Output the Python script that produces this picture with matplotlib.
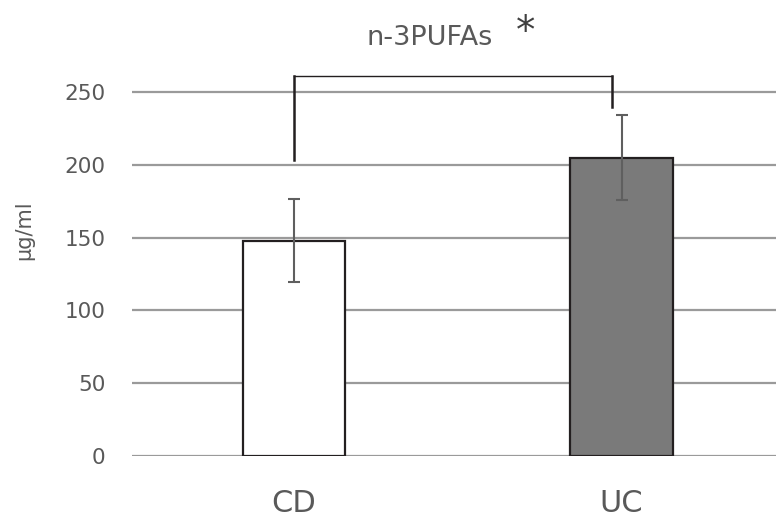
#!/usr/bin/env python3

import numpy as np
import matplotlib
matplotlib.use("Agg")
import matplotlib.pyplot as plt

# ==========================================================
# DATA
# ==========================================================

groups = ["CD", "UC"]
means = [148, 205]
errs = [28.5, 29]
bar_colors = ["white", "#7a7a7a"]

yticks = [0, 50, 100, 150, 200, 250]

# ==========================================================
# PLOT
# ==========================================================

plt.rcParams["font.family"] = ["DejaVu Sans"]

fig = plt.figure(figsize=(7.76, 5.22), dpi=100)
ax = fig.add_axes([0.1701, 0.1264, 0.8299, 0.8368])

x = np.arange(len(groups))

# gridlines only up to 250
for yv in yticks:
    ax.axhline(yv, color="#9a9a9a", lw=1.6, zorder=0)

ax.bar(
    x,
    means,
    width=0.313,
    color=bar_colors,
    edgecolor="#231f20",
    linewidth=1.6,
    zorder=2
)

ax.errorbar(
    x,
    means,
    yerr=errs,
    fmt="none",
    ecolor="#5f5f5f",
    elinewidth=1.5,
    capsize=4,
    capthick=1.5,
    zorder=3
)

# ----------------------------------------------------------
# significance bracket
# ----------------------------------------------------------

br_x0, br_x1 = 0.0, 0.97
br_top = 261
ax.plot([br_x0, br_x1], [br_top, br_top], color="#231f20", lw=1.0, zorder=4)
ax.plot([br_x0, br_x0], [br_top, 203], color="#231f20", lw=1.8, zorder=4)
ax.plot([br_x1, br_x1], [br_top, 240], color="#231f20", lw=1.8, zorder=4)

ax.text(0.415, 287, "n-3PUFAs", ha="center", va="center",
        fontsize=19.5, color="#595959")
ax.text(0.708, 291, "*", ha="center", va="center",
        fontsize=28, color="#404040")

# ----------------------------------------------------------
# axes
# ----------------------------------------------------------

ax.set_xlim(-0.494, 1.471)
ax.set_ylim(0, 300)

ax.set_yticks(yticks)
ax.set_xticks(x)
ax.set_xticklabels(groups)

ax.tick_params(axis="y", length=0, pad=19, labelsize=15.5,
               labelcolor="#595959")
ax.tick_params(axis="x", length=0, pad=24, labelsize=22,
               labelcolor="#595959")

for s in ax.spines.values():
    s.set_visible(False)

fig.text(0.031, 0.559, "\u03bcg/ml", rotation=90, ha="center",
         va="center", fontsize=15, color="#595959")

fig.savefig("out.png", dpi=100)
